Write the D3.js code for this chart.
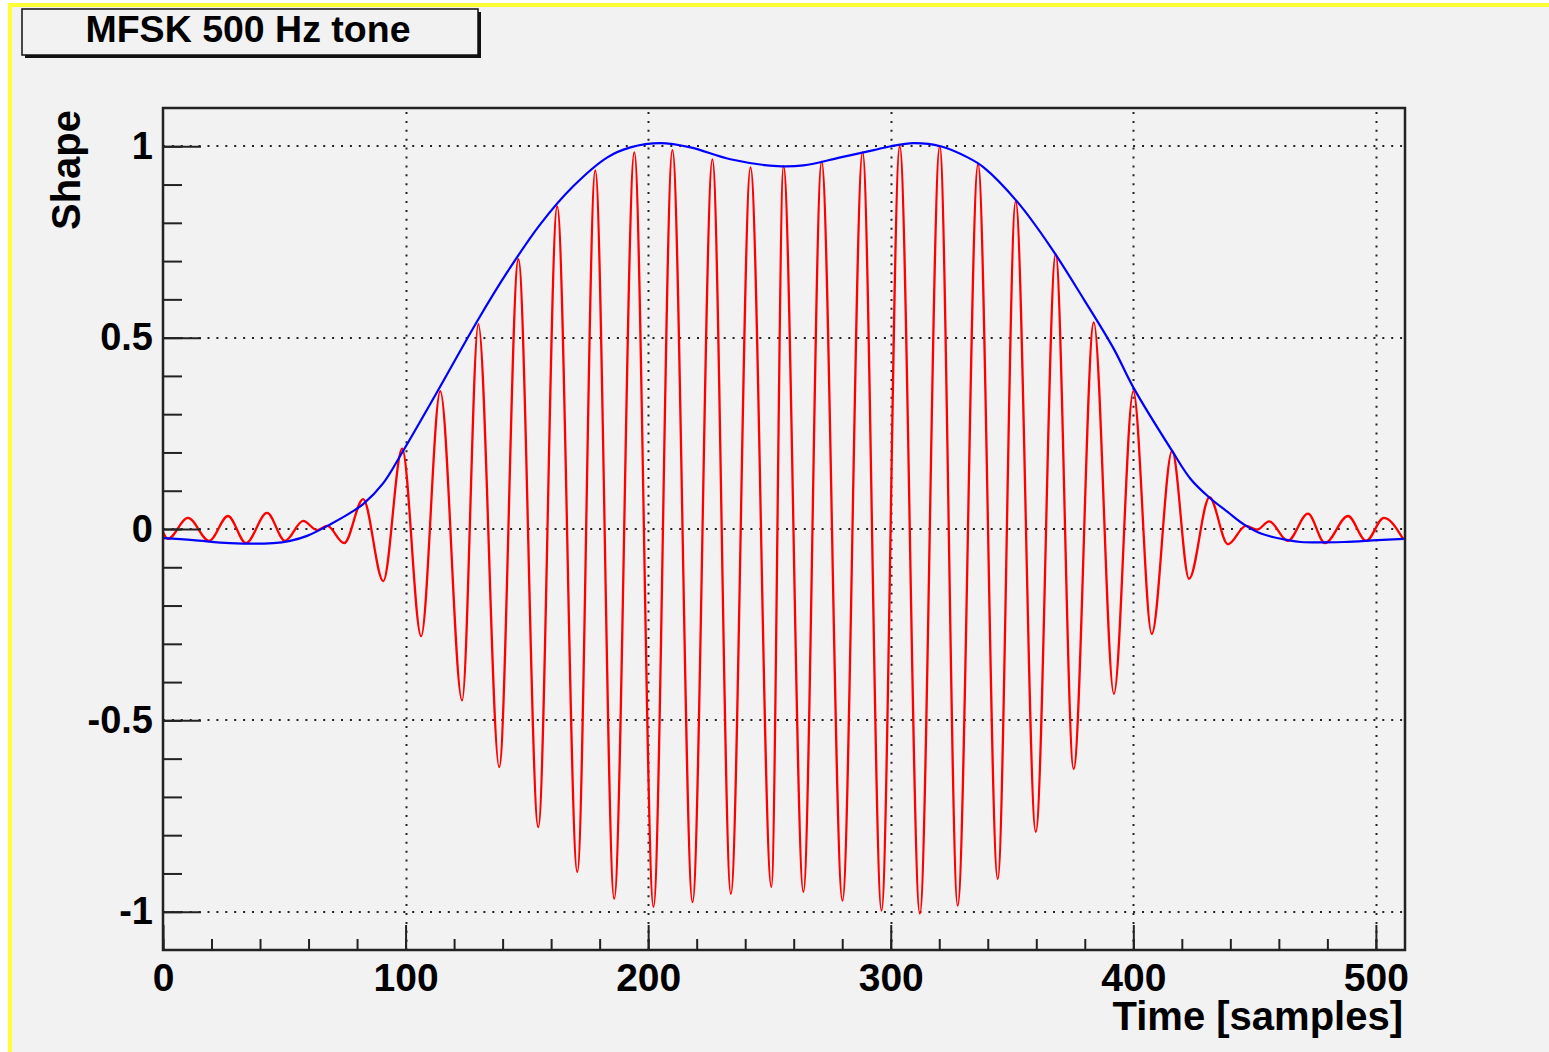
<!DOCTYPE html>
<html>
<head>
<meta charset="utf-8">
<script src="https://cdn.jsdelivr.net/npm/d3@7"></script>
<style>
  html, body { margin: 0; padding: 0; background: #ffffff; }
  svg { display: block; }
  text { font-family: "Liberation Sans", Arial, Helvetica, sans-serif; font-weight: bold; fill: #000; }
</style>
</head>
<body>
<svg id="chart" width="1549" height="1052"></svg>
<script>
// ---------- data ----------
const titleText = "MFSK 500 Hz tone";
const xLabel = "Time [samples]";
const yLabel = "Shape";

const xMajorTicks = [0, 100, 200, 300, 400, 500];
const yMajorTicks = [-1, -0.5, 0, 0.5, 1];
const xTickLabels = ["0", "100", "200", "300", "400", "500"];
const yTickLabels = ["-1", "-0.5", "0", "0.5", "1"];

// red waveform: extrema (sample index, value)
const toneT = [0, 2, 10.3, 19, 26.8, 34.2, 42.9, 50.3, 57.8, 63.5, 67.7, 74.7, 82.5, 90.8, 98.6, 106.4,
  114.3, 123.3, 130, 138.6, 146.5, 154.7, 162.5, 170.8, 178.2, 186, 194.3, 202.2, 210, 218.3, 226.5,
  234.1, 242.2, 250.8, 255.8, 264, 271.5, 280.1, 288.4, 296.2, 303.7, 312, 320.2, 327.6, 336, 344.1,
  351.5, 359.8, 368, 375.4, 383.7, 392, 400, 407.6, 416, 423, 431.4, 439, 446.4, 451, 456, 463.7,
  472, 479, 488.5, 496, 503.3, 511.2];
const toneV = [-0.008, -0.026, 0.029, -0.031, 0.034, -0.037, 0.042, -0.031, 0.021, -0.003, 0.008, -0.037,
  0.078, -0.136, 0.21, -0.28, 0.36, -0.448, 0.535, -0.622, 0.705, -0.779, 0.843, -0.896, 0.937, -0.966,
  0.984, -0.987, 0.99, -0.975, 0.966, -0.953, 0.945, -0.935, 0.948, -0.948, 0.96, -0.971, 0.984, -0.997,
  1.0, -1.005, 1.0, -0.984, 0.953, -0.914, 0.856, -0.791, 0.718, -0.627, 0.54, -0.431, 0.36, -0.274,
  0.204, -0.13, 0.083, -0.04, 0.008, -0.002, 0.02, -0.031, 0.04, -0.037, 0.034, -0.031, 0.029, -0.026];

// blue envelope (sample index, value)
const envT = [0, 12.4, 27.6, 45.4, 52.4, 59.4, 68.9, 77.2, 82.5, 90.8, 98.6, 113, 130, 141.9, 155.5,
  169.2, 183.2, 192.7, 205, 217.4, 233.9, 253.3, 264, 279.3, 293, 300, 309.4, 320.6, 331.7, 338.3,
  352.3, 366, 379.6, 392, 400, 416, 423.7, 431.2, 439, 445.6, 452.6, 463.7, 469, 486.8, 500.8, 511.5];
const envV = [-0.024, -0.029, -0.037, -0.037, -0.031, -0.018, 0.012, 0.042, 0.065, 0.12, 0.2, 0.358,
  0.548, 0.671, 0.796, 0.896, 0.971, 0.997, 1.008, 0.997, 0.966, 0.948, 0.95, 0.971, 0.99, 1.0, 1.008,
  1.0, 0.971, 0.945, 0.854, 0.736, 0.6, 0.47, 0.37, 0.204, 0.13, 0.083, 0.044, 0.012, -0.012, -0.029,
  -0.034, -0.034, -0.029, -0.026];

// ---------- drawing ----------
const svg = d3.select("#chart");
const W = 1549, H = 1052;
const L = 163, R = 1405, T = 108, B = 950;

// canvas background with yellow border
svg.append("rect").attr("x", 0).attr("y", 0).attr("width", W).attr("height", H).attr("fill", "#ffffff");
svg.append("rect").attr("x", 8).attr("y", 3).attr("width", W - 8).attr("height", H - 3).attr("fill", "#ffff33");
svg.append("rect").attr("x", 12).attr("y", 7).attr("width", W - 12).attr("height", H - 7).attr("fill", "#f2f2f2");

const x = d3.scaleLinear().domain([0, 512]).range([L, R]);
const y = d3.scaleLinear().domain([-1.1, 1.1]).range([B, T]);

// grid (dotted)
const grid = svg.append("g").attr("stroke", "#222").attr("stroke-width", 2).attr("stroke-dasharray", "2,6.9");
grid.selectAll(".gx").data(xMajorTicks.filter(d => d > 0)).join("line")
  .attr("x1", d => Math.round(x(d)) + 0.5).attr("x2", d => Math.round(x(d)) + 0.5)
  .attr("y1", T + 4).attr("y2", B);
grid.selectAll(".gy").data(yMajorTicks).join("line")
  .attr("x1", L).attr("x2", R - 2)
  .attr("y1", d => Math.round(y(d))).attr("y2", d => Math.round(y(d)));

// curves
const plot = svg.append("g");
const toneData = toneT.map((t, i) => [t, toneV[i]]);
const envData = envT.map((t, i) => [t, envV[i]]);
const toneLine = d3.line().x(d => x(d[0])).y(d => y(d[1])).curve(d3.curveMonotoneX);
const envLine = d3.line().x(d => x(d[0])).y(d => y(d[1])).curve(d3.curveCatmullRom.alpha(0.5));

plot.append("path").datum(toneData).attr("d", toneLine)
  .attr("fill", "none").attr("stroke", "#ff0000").attr("stroke-width", 2.3).attr("stroke-linejoin", "round");
plot.append("path").datum(envData).attr("d", envLine)
  .attr("fill", "none").attr("stroke", "#0000ff").attr("stroke-width", 2.2).attr("stroke-linejoin", "round");

// axes
const xAxisMinor = d3.axisBottom(x).tickValues(d3.range(0, 513, 20)).tickSize(-11).tickFormat("");
const xAxisMajor = d3.axisBottom(x).tickValues(xMajorTicks).tickSize(-25).tickPadding(13)
  .tickFormat((d, i) => xTickLabels[i]);
const yAxisMinor = d3.axisLeft(y).tickValues(d3.range(-10, 11).map(k => k / 10)).tickSize(-19).tickFormat("");
const yAxisMajor = d3.axisLeft(y).tickValues(yMajorTicks).tickSize(-38).tickPadding(10)
  .tickFormat((d, i) => yTickLabels[i]);

function styleAxis(size) {
  return g => {
    g.select(".domain").remove();
    g.selectAll(".tick line").attr("stroke", "#222").attr("stroke-width", 2);
    g.selectAll(".tick text").attr("font-size", size).attr("font-family", null).attr("fill", "#000")
      .style("font-weight", "bold");
  };
}
svg.append("g").attr("transform", `translate(0,${B})`).call(xAxisMinor).call(styleAxis(39));
svg.append("g").attr("transform", `translate(0,${B})`).call(xAxisMajor).call(styleAxis(39));
svg.append("g").attr("transform", `translate(${L},0)`).call(yAxisMinor).call(styleAxis(38));
svg.append("g").attr("transform", `translate(${L},0)`).call(yAxisMajor).call(styleAxis(38));

// frame
svg.append("rect").attr("x", L).attr("y", T).attr("width", R - L).attr("height", B - T)
  .attr("fill", "none").attr("stroke", "#222").attr("stroke-width", 2.5);

// axis titles
svg.append("text").attr("x", 1403).attr("y", 1030).attr("text-anchor", "end")
  .attr("font-size", 40).text(xLabel);
svg.append("text").attr("transform", "translate(80,110) rotate(-90)").attr("text-anchor", "end")
  .attr("font-size", 40).text(yLabel);

// title box with shadow
svg.append("rect").attr("x", 25).attr("y", 12).attr("width", 456).attr("height", 46).attr("fill", "#111");
svg.append("rect").attr("x", 22).attr("y", 9).attr("width", 456).attr("height", 46)
  .attr("fill", "#f2f2f2").attr("stroke", "#111").attr("stroke-width", 1.5);
svg.append("text").attr("x", 248).attr("y", 42).attr("text-anchor", "middle")
  .attr("font-size", 37.5).text(titleText);
</script>
</body>
</html>
